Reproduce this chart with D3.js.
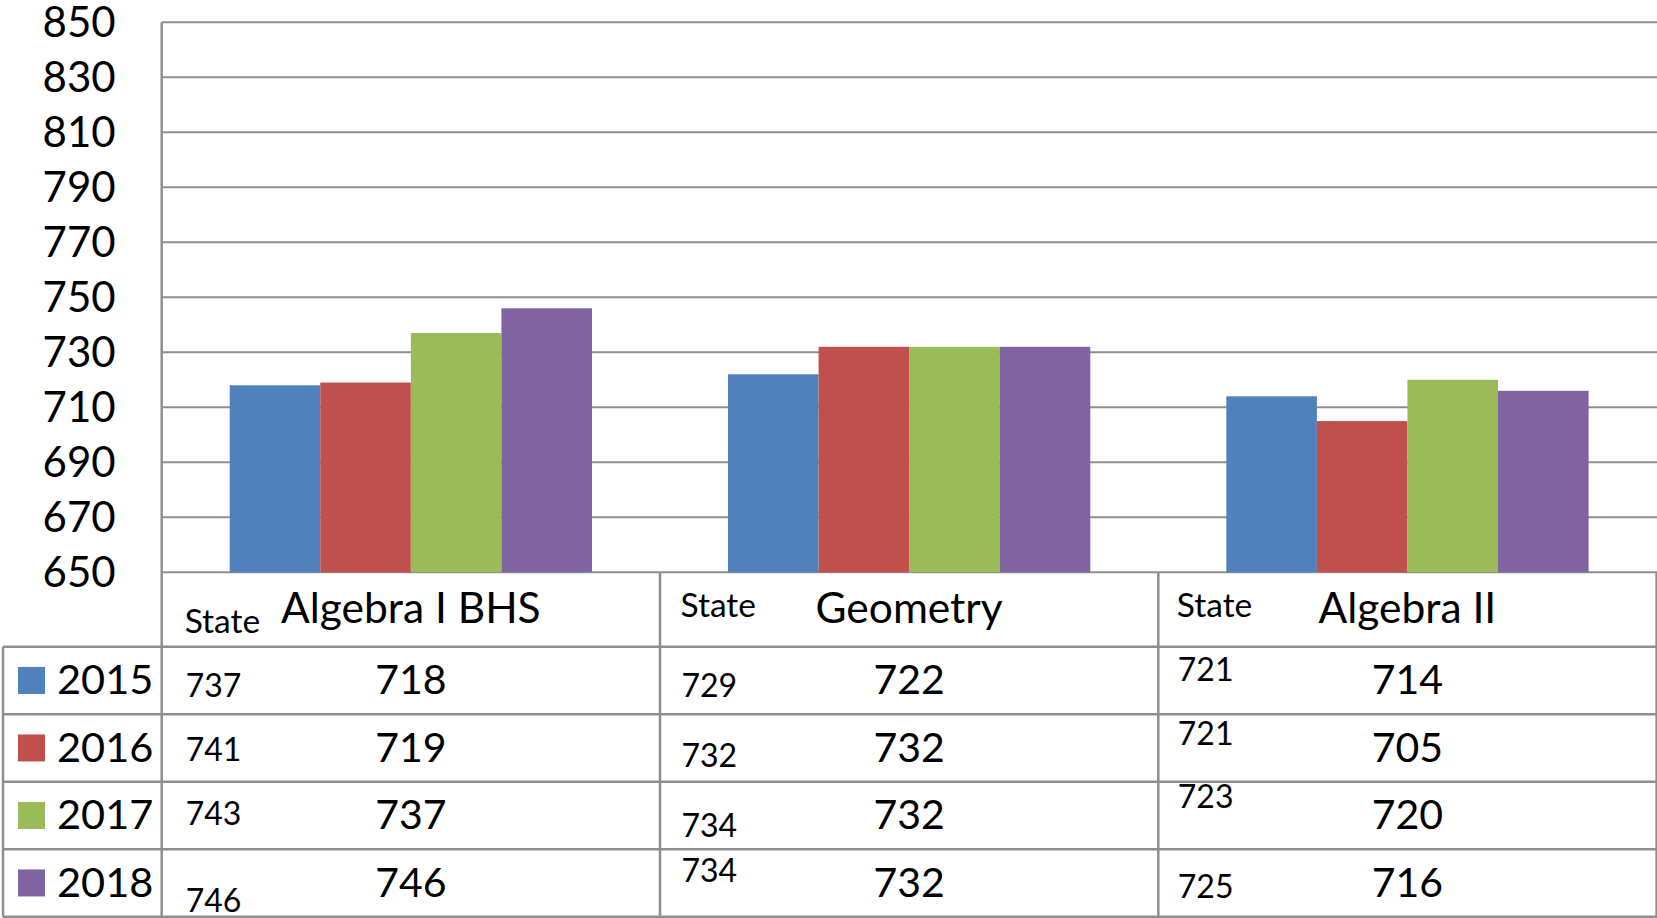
<!DOCTYPE html>
<html>
<head>
<meta charset="utf-8">
<script src="https://cdn.jsdelivr.net/npm/d3@7"></script>
<style>
  html, body { margin: 0; padding: 0; background: #fff; }
  svg { display: block; }
  text { font-family: Lato, "Open Sans", sans-serif; fill: #000; }
</style>
</head>
<body>
<svg id="chart" width="1657" height="918"></svg>
<script>
// ---- data ----
const categories = ["Algebra I BHS", "Geometry", "Algebra II"];
const years = ["2015", "2016", "2017", "2018"];
const schoolValues = {
  "2015": [718, 722, 714],
  "2016": [719, 732, 705],
  "2017": [737, 732, 720],
  "2018": [746, 732, 716]
};
const stateValues = {
  "2015": [737, 729, 721],
  "2016": [741, 732, 721],
  "2017": [743, 734, 723],
  "2018": [746, 734, 725]
};
const stateLabel = "State";
const yTicks = [650, 670, 690, 710, 730, 750, 770, 790, 810, 830, 850];
const colors = ["#4F81BD", "#C0504D", "#9BBB59", "#8064A2"];

// ---- layout ----
const W = 1657, H = 918;
const plotLeft = 161.7, plotRight = 1656.6, plotTop = 22.3, plotBottom = 572.3;
const headerH = 74.4, rowH = 67.5;
const lineColor = "#8f8f8f";

const svg = d3.select("#chart");

const x0 = d3.scaleBand().domain(categories).range([plotLeft, plotRight])
  .paddingInner(0.273).paddingOuter(0.1365);
const x1 = d3.scaleBand().domain(years).range([0, x0.bandwidth()]);
const y = d3.scaleLinear().domain([650, 850]).range([plotBottom, plotTop]);
const color = d3.scaleOrdinal().domain(years).range(colors);
const step = x0.step();
const colStart = c => plotLeft + categories.indexOf(c) * step;

const rowTop = i => plotBottom + headerH + i * rowH;
const tableBottom = rowTop(years.length);

// gridlines
svg.append("g").selectAll("line").data(yTicks).join("line")
  .attr("x1", plotLeft).attr("x2", W)
  .attr("y1", d => y(d)).attr("y2", d => y(d))
  .attr("stroke", lineColor).attr("stroke-width", 2);

// y tick labels
svg.append("g").selectAll("text").data(yTicks).join("text")
  .attr("x", 115.7).attr("y", d => y(d) + 15)
  .attr("text-anchor", "end")
  .style("font-size", "42px")
  .text(d => d);

// bars
const flat = [];
years.forEach(yr => categories.forEach((c, ci) => flat.push({yr, c, v: schoolValues[yr][ci]})));
svg.append("g").selectAll("rect").data(flat).join("rect")
  .attr("x", d => x0(d.c) + x1(d.yr))
  .attr("width", x1.bandwidth())
  .attr("y", d => y(d.v))
  .attr("height", d => y(650) - y(d.v))
  .attr("fill", d => color(d.yr));

// table lines
const tl = svg.append("g").attr("stroke", lineColor).attr("stroke-width", 2.5);
d3.range(years.length + 1).forEach(i => {
  tl.append("line").attr("x1", 3).attr("x2", W).attr("y1", rowTop(i)).attr("y2", rowTop(i));
});
tl.append("line").attr("x1", plotLeft).attr("x2", plotLeft).attr("y1", plotTop).attr("y2", tableBottom);
tl.append("line").attr("x1", 3).attr("x2", 3).attr("y1", rowTop(0)).attr("y2", tableBottom);
categories.forEach((c, ci) => {
  const xr = colStart(c) + step;
  tl.append("line").attr("x1", xr).attr("x2", xr).attr("y1", plotBottom).attr("y2", tableBottom);
});

// header
const stateHeaderDy = [60.4, 45, 45];
const stateDx = [24, 21.5, 19.5];
categories.forEach((c, ci) => {
  svg.append("text")
    .attr("x", colStart(c) + stateDx[ci] - 1)
    .attr("y", plotBottom + stateHeaderDy[ci])
    .style("font-size", "33.5px")
    .text(stateLabel);
  svg.append("text")
    .attr("x", x0(c) + x0.bandwidth() / 2)
    .attr("y", plotBottom + 50.6)
    .attr("text-anchor", "middle")
    .style("font-size", "42.5px")
    .text(c);
});

// legend column
years.forEach((yr, i) => {
  const cy = rowTop(i) + rowH / 2;
  svg.append("rect").attr("x", 18).attr("y", cy - 13.5).attr("width", 27).attr("height", 27)
    .attr("fill", color(yr));
  svg.append("text").attr("x", 57).attr("y", cy + 14)
    .style("font-size", "41.5px").text(yr);
});

// cell values
const stateDy = [
  [50, 50, 34],
  [47, 53, 30.3],
  [43.3, 55.6, 26.6],
  [62.5, 32.7, 48.3]
];
years.forEach((yr, i) => {
  categories.forEach((c, ci) => {
    svg.append("text")
      .attr("x", colStart(c) + stateDx[ci])
      .attr("y", rowTop(i) + stateDy[i][ci])
      .style("font-size", "32px")
      .text(stateValues[yr][ci]);
    svg.append("text")
      .attr("x", x0(c) + x0.bandwidth() / 2)
      .attr("y", rowTop(i) + rowH / 2 + 14)
      .attr("text-anchor", "middle")
      .style("font-size", "41px")
      .text(schoolValues[yr][ci]);
  });
});
</script>
</body>
</html>
